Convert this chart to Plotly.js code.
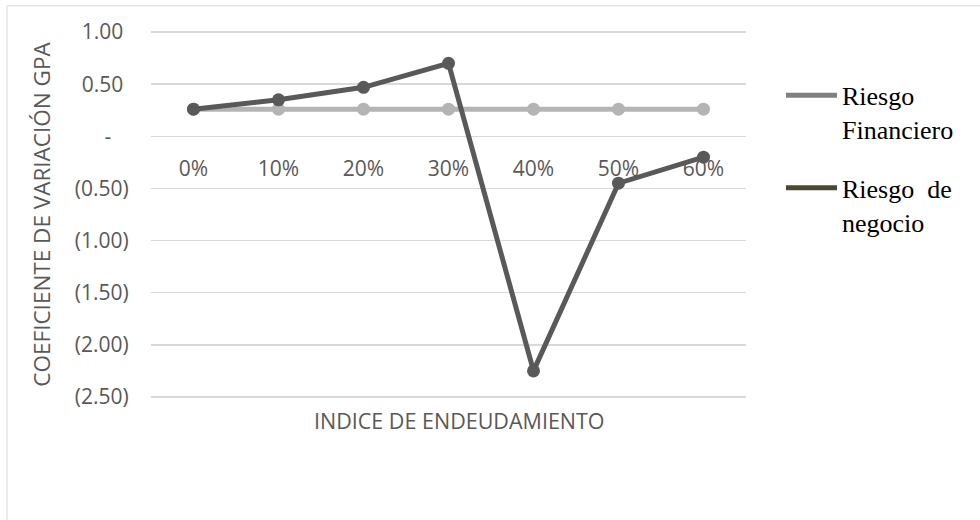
<!DOCTYPE html>
<html>
<head>
<meta charset="utf-8">
<script src="https://cdn.plot.ly/plotly-3.0.1.min.js"></script>
<style>html,body{margin:0;padding:0;background:#fff;}#chart{width:980px;height:520px;}</style>
</head>
<body>
<div id="chart"></div>
<script>
const categories = ["0%", "10%", "20%", "30%", "40%", "50%", "60%"];
const riesgoFinanciero = [0.26, 0.35, 0.47, 0.70, -2.25, -0.45, -0.20];
const riesgoNegocio = [0.26, 0.26, 0.26, 0.26, 0.26, 0.26, 0.26];
const yTickVals = [1, 0.5, 0, -0.5, -1, -1.5, -2, -2.5];
const yTickText = ["1.00", "0.50", "-", "(0.50)", "(1.00)", "(1.50)", "(2.00)", "(2.50)"];
const legendNames = ["Riesgo<br>Financiero", "Riesgo\u00a0 de<br>negocio"];
const legendColors = ["#808080", "#4b4832"];
const xTitle = "INDICE DE ENDEUDAMIENTO";
const yTitle = "COEFICIENTE DE VARIACIÓN GPA";

const textColor = "#595959";
const font = "'Open Sans', sans-serif";

// accounting-style alignment: positive numbers leave room for the closing parenthesis
const yTickDisplay = yTickText.map(function (t) {
  if (t.charAt(0) === "(") return t;
  if (t === "-") return t + "\u2007\u2008";
  return t + "\u2008";
});

const traces = [
  {
    x: categories, y: riesgoNegocio, type: "scatter", mode: "lines+markers",
    name: "Riesgo de negocio", showlegend: false,
    line: {color: "#b4b4b4", width: 5}, marker: {color: "#b4b4b4", size: 13}
  },
  {
    x: categories, y: riesgoFinanciero, type: "scatter", mode: "lines+markers",
    name: "Riesgo Financiero", showlegend: false,
    line: {color: "#595959", width: 5}, marker: {color: "#595959", size: 13}
  },
  {
    x: [null], y: [null], type: "scatter", mode: "lines", name: legendNames[0],
    legendgroup: "a", line: {color: legendColors[0], width: 5}, hoverinfo: "skip"
  },
  {
    x: [null], y: [null], type: "scatter", mode: "lines", name: legendNames[1],
    legendgroup: "b", line: {color: legendColors[1], width: 5}, hoverinfo: "skip"
  }
];

const yMin = -2.51, yMax = 1.01;
const zeroPos = (0 - yMin) / (yMax - yMin);

const layout = {
  width: 980, height: 520,
  margin: {l: 151, r: 234, t: 31, b: 122},
  paper_bgcolor: "#ffffff", plot_bgcolor: "#ffffff",
  font: {family: font, color: textColor, size: 21},
  showlegend: true,
  legend: {
    x: 1.0588, xanchor: "left", y: 0.889, yanchor: "top",
    font: {family: "'Liberation Serif', 'Times New Roman', serif", size: 26, color: "#000000"},
    tracegroupgap: 22, bgcolor: "rgba(0,0,0,0)", valign: "top", itemwidth: 51
  },
  xaxis: {
    type: "category", categoryorder: "array", categoryarray: categories,
    range: [-0.5, 6.5],
    anchor: "free", position: zeroPos,
    showgrid: false, zeroline: false, showline: false,
    ticks: "outside", ticklen: 13, tickcolor: "rgba(0,0,0,0)",
    tickfont: {family: font, size: 21, color: textColor}
  },
  yaxis: {
    range: [yMin, yMax], tickmode: "array", tickvals: yTickVals, ticktext: yTickDisplay,
    showgrid: true, gridcolor: "#d9d9d9", gridwidth: 1.5,
    zeroline: false, showline: false, ticks: "outside", ticklen: 17, tickcolor: "rgba(0,0,0,0)",
    tickfont: {family: font, size: 21, color: textColor},
    title: {text: yTitle + "\u00a0\u00a0", font: {family: font, size: 22.5, color: textColor}, standoff: 17}
  },
  annotations: [
    {text: xTitle, xref: "paper", yref: "paper", x: 0.519, y: 0, xanchor: "center", yanchor: "middle",
     yshift: -22, showarrow: false, font: {family: font, size: 21.5, color: textColor}}
  ],
  shapes: [
    {type: "rect", xref: "paper", yref: "paper", x0: -0.242, x1: 1.5, y0: -0.5, y1: 1.0685,
     line: {color: "#d9d9d9", width: 1}, fillcolor: "rgba(0,0,0,0)", layer: "below"}
  ]
};

Plotly.newPlot("chart", traces, layout, {displayModeBar: false, staticPlot: true});
</script>
</body>
</html>
